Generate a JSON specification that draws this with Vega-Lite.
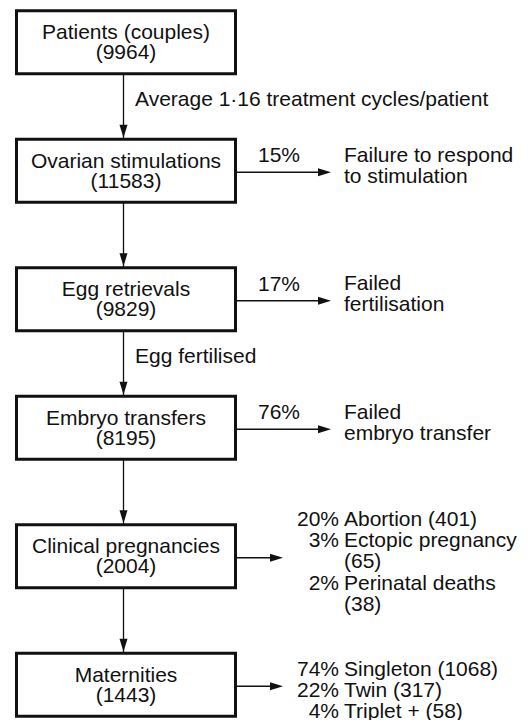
{
  "$schema": "https://vega.github.io/schema/vega-lite/v6.json",
  "width": 532,
  "height": 720,
  "padding": 0,
  "autosize": {"type": "none"},
  "background": "white",
  "config": {
    "view": {"stroke": null},
    "text": {"font": "Liberation Sans", "fontSize": 21, "color": "#111", "baseline": "alphabetic"}
  },
  "datasets": {
    "stages": [
      {"stage": 1, "name": "Patients (couples)", "n": 9964, "exit": "none"},
      {"stage": 2, "name": "Ovarian stimulations", "n": 11583, "exit": "failure", "pct": 0.15},
      {"stage": 3, "name": "Egg retrievals", "n": 9829, "exit": "failure", "pct": 0.17},
      {"stage": 4, "name": "Embryo transfers", "n": 8195, "exit": "failure", "pct": 0.76},
      {"stage": 5, "name": "Clinical pregnancies", "n": 2004, "exit": "outcome"},
      {"stage": 6, "name": "Maternities", "n": 1443, "exit": "outcome"}
    ],
    "links": [
      {"from": 1, "to": 2, "note": "Average 1·16 treatment cycles/patient"},
      {"from": 2, "to": 3, "note": ""},
      {"from": 3, "to": 4, "note": "Egg fertilised"},
      {"from": 4, "to": 5, "note": ""},
      {"from": 5, "to": 6, "note": ""}
    ],
    "sides": [
      {"stage": 2, "line": 0, "text": "Failure to respond"},
      {"stage": 2, "line": 1, "text": "to stimulation"},
      {"stage": 3, "line": 0, "text": "Failed"},
      {"stage": 3, "line": 1, "text": "fertilisation"},
      {"stage": 4, "line": 0, "text": "Failed"},
      {"stage": 4, "line": 1, "text": "embryo transfer"},
      {"stage": 5, "line": -1, "pct": 0.20, "text": "Abortion (401)"},
      {"stage": 5, "line": 0, "pct": 0.03, "text": "Ectopic pregnancy"},
      {"stage": 5, "line": 1, "text": "(65)"},
      {"stage": 5, "line": 2, "pct": 0.02, "text": "Perinatal deaths"},
      {"stage": 5, "line": 3, "text": "(38)"},
      {"stage": 6, "line": 0, "pct": 0.74, "text": "Singleton (1068)"},
      {"stage": 6, "line": 1, "pct": 0.22, "text": "Twin (317)"},
      {"stage": 6, "line": 2, "pct": 0.04, "text": "Triplet + (58)"}
    ]
  },
  "encoding": {
    "y": {"field": "stage", "type": "ordinal", "axis": null,
          "scale": {"type": "point", "domain": [1, 2, 3, 4, 5, 6], "padding": 0.3016, "align": 0.545}}
  },
  "layer": [
    {
      "data": {"name": "links"},
      "mark": {"type": "rule", "color": "#111", "strokeWidth": 1.3},
      "encoding": {
        "x": {"datum": 123.5, "type": "quantitative", "axis": null, "scale": {"domain": [0, 532], "nice": false, "zero": false}},
        "y": {"field": "from", "type": "ordinal"},
        "y2": {"field": "to"}
      }
    },
    {
      "data": {"name": "stages"},
      "transform": [{"filter": "datum.exit === 'failure'"}],
      "mark": {"type": "rule", "color": "#111", "strokeWidth": 1.3, "yOffset": 1.5},
      "encoding": {
        "x": {"datum": 236, "type": "quantitative"},
        "x2": {"datum": 325},
        "y": {"field": "stage", "type": "ordinal"}
      }
    },
    {
      "data": {"name": "stages"},
      "transform": [{"filter": "datum.exit === 'outcome'"}],
      "mark": {"type": "rule", "color": "#111", "strokeWidth": 1.3, "yOffset": 1.5},
      "encoding": {
        "x": {"datum": 236, "type": "quantitative"},
        "x2": {"datum": 278},
        "y": {"field": "stage", "type": "ordinal"}
      }
    },
    {
      "data": {"name": "stages"},
      "mark": {"type": "point", "shape": "M-109.5,-31.5H109.5V31.5H-109.5Z", "size": 4, "filled": false,
               "fill": "white", "stroke": "#111", "strokeWidth": 3, "opacity": 1, "fillOpacity": 1},
      "encoding": {
        "x": {"datum": 126, "type": "quantitative"},
        "y": {"field": "stage", "type": "ordinal"}
      }
    },
    {
      "data": {"name": "links"},
      "mark": {"type": "point", "shape": "M-4,-46L4,-46L0,-33Z", "size": 4, "filled": true,
               "color": "#111", "opacity": 1, "strokeWidth": 0},
      "encoding": {
        "x": {"datum": 123.5, "type": "quantitative"},
        "y": {"field": "to", "type": "ordinal"}
      }
    },
    {
      "data": {"name": "stages"},
      "transform": [{"filter": "datum.exit === 'failure'"}],
      "mark": {"type": "point", "shape": "M-13,-4L0,0L-13,4Z", "size": 4, "filled": true,
               "color": "#111", "opacity": 1, "strokeWidth": 0, "yOffset": 1.5},
      "encoding": {
        "x": {"datum": 331, "type": "quantitative"},
        "y": {"field": "stage", "type": "ordinal"}
      }
    },
    {
      "data": {"name": "stages"},
      "transform": [{"filter": "datum.exit === 'outcome'"}],
      "mark": {"type": "point", "shape": "M-13,-4L0,0L-13,4Z", "size": 4, "filled": true,
               "color": "#111", "opacity": 1, "strokeWidth": 0, "yOffset": 1.5},
      "encoding": {
        "x": {"datum": 283, "type": "quantitative"},
        "y": {"field": "stage", "type": "ordinal"}
      }
    },
    {
      "data": {"name": "stages"},
      "mark": {"type": "text", "align": "center", "dy": -3.2},
      "encoding": {
        "x": {"datum": 126, "type": "quantitative"},
        "y": {"field": "stage", "type": "ordinal"},
        "text": {"field": "name"}
      }
    },
    {
      "data": {"name": "stages"},
      "mark": {"type": "text", "align": "center", "dy": 17.2, "text": {"expr": "'(' + datum.n + ')'"}},
      "encoding": {
        "x": {"datum": 126, "type": "quantitative"},
        "y": {"field": "stage", "type": "ordinal"}
      }
    },
    {
      "data": {"name": "stages"},
      "transform": [{"filter": "datum.exit === 'failure'"}],
      "mark": {"type": "text", "align": "left", "dy": -8.7},
      "encoding": {
        "x": {"datum": 258, "type": "quantitative"},
        "y": {"field": "stage", "type": "ordinal"},
        "text": {"field": "pct", "type": "quantitative", "format": ".0%"}
      }
    },
    {
      "data": {"name": "links"},
      "mark": {"type": "text", "align": "left", "dy": 64},
      "encoding": {
        "x": {"datum": 135, "type": "quantitative"},
        "y": {"field": "from", "type": "ordinal"},
        "text": {"field": "note"}
      }
    },
    {
      "data": {"name": "sides"},
      "mark": {"type": "text", "align": "left"},
      "encoding": {
        "x": {"datum": 344, "type": "quantitative"},
        "y": {"field": "stage", "type": "ordinal"},
        "yOffset": {"field": "line", "type": "quantitative", "scale": {"domain": [-1, 3], "range": [-30.2, 54.6]}},
        "text": {"field": "text"}
      }
    },
    {
      "data": {"name": "sides"},
      "transform": [{"filter": "isValid(datum.pct)"}],
      "mark": {"type": "text", "align": "right"},
      "encoding": {
        "x": {"datum": 339, "type": "quantitative"},
        "y": {"field": "stage", "type": "ordinal"},
        "yOffset": {"field": "line", "type": "quantitative", "scale": {"domain": [-1, 3], "range": [-30.2, 54.6]}},
        "text": {"field": "pct", "type": "quantitative", "format": ".0%"}
      }
    }
  ]
}
